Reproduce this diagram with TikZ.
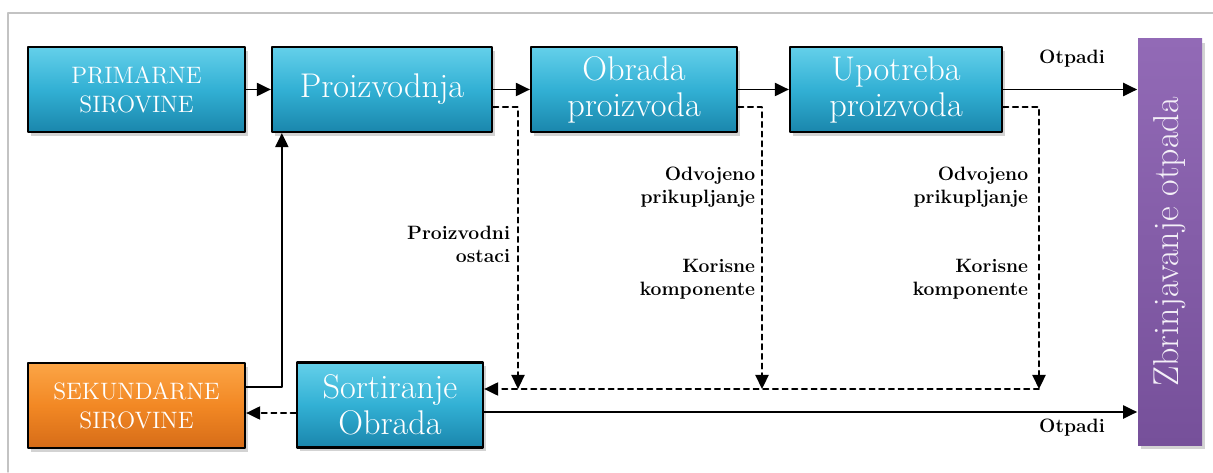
\documentclass[tikz,border=0pt]{standalone}
\usetikzlibrary{arrows.meta}
\usetikzlibrary{shadows}
\definecolor{cyanT}{RGB}{100,208,234}
\definecolor{cyanM}{RGB}{50,176,212}
\definecolor{cyanB}{RGB}{26,134,172}
\definecolor{orT}{RGB}{252,165,70}
\definecolor{orM}{RGB}{242,136,36}
\definecolor{orB}{RGB}{214,108,24}
\definecolor{purT}{RGB}{146,106,182}
\definecolor{purB}{RGB}{118,80,154}
\definecolor{frameGrey}{RGB}{195,195,195}
\begin{document}
\begin{tikzpicture}[line cap=round,line join=round,>={Triangle[length=8pt,width=7.5pt]},x=1cm,y=1cm, line width=1pt,
    proc/.style={draw=black, line width=1.3pt, top color=cyanT, bottom color=cyanB, middle color=cyanM, text=white, inner sep=0pt, minimum height=1.7cm, align=center, font=\fontsize{19.5}{20.5}\selectfont, drop shadow={shadow xshift=1.5pt, shadow yshift=-2pt, opacity=0.35}},
    src/.style={proc, font=\fontsize{13.5}{16.5}\selectfont},
    lbl/.style={font=\bfseries\fontsize{11}{13}\selectfont, align=right, anchor=east, inner sep=0pt},
    flow/.style={dash pattern=on 3pt off 2.5pt}]
    \useasboundingbox (0,0) rectangle (24.26,9.44);
    \draw[frameGrey, line width=0.8pt] (0.16,0) -- (0.16,9.18) -- (24.26,9.18);

    % top row
    \node[src, minimum width=4.34cm] (prim) at (2.73,7.65) {PRIMARNE\\SIROVINE};
    \node[proc, minimum width=4.4cm] (proiz) at (7.64,7.65) {Proizvodnja};
    \node[proc, minimum width=4.12cm] (obr) at (12.68,7.65) {Obrada\\proizvoda};
    \node[proc, minimum width=4.24cm] (upot) at (17.92,7.65) {Upotreba\\proizvoda};

    % bottom row
    \node[src, minimum width=4.34cm, top color=orT, bottom color=orB, middle color=orM] (sek) at (2.73,1.33) {SEKUNDARNE\\SIROVINE};
    \node[proc, minimum width=3.72cm] (sort) at (7.80,1.34) {Sortiranje\\Obrada};

    % waste
    \node[top color=purT, bottom color=purB, minimum width=1.28cm, minimum height=8.12cm, inner sep=0pt, drop shadow={shadow xshift=1.5pt, shadow yshift=-2pt, opacity=0.35}] (zbr) at (23.40,4.60) {};
    \node[rotate=90, text=white!90!purT, font=\fontsize{20.5}{22}\selectfont] (zbrtxt) at (zbr.center) {Zbrinjavanje otpada};

    \coordinate (c1) at (10.36,1.66);
    \coordinate (c2) at (15.24,1.66);
    \coordinate (c3) at (20.78,1.66);

    \draw[->] (prim.east) -- (proiz.west);
    \draw[->] (proiz.east) -- (obr.west);
    \draw[->] (obr.east) -- (upot.west);
    \draw[->] (upot.east) -- (upot.east -| zbr.west);
    \draw[->] ([yshift=0.37cm]sek.east) -| ([xshift=0.22cm]proiz.south west);

    \draw[flow,->] ([yshift=-0.35cm]proiz.east) -| (c1);
    \draw[flow,->] ([yshift=-0.35cm]obr.east) -| (c2);
    \draw[flow,->] ([yshift=-0.35cm]upot.east) -| (c3);
    \draw[flow,->] (c3) -- (c3 -| sort.east);
    \draw[flow,->] ([yshift=-0.16cm]sort.west) -- ([yshift=-0.16cm]sort.west -| sek.east);
    \draw[->] ([yshift=-0.14cm]sort.east) -- ([yshift=-0.14cm]sort.east -| zbr.west);

    \node[lbl] (ostaci) at (10.22,4.56) {Proizvodni\\ostaci};
    \node[lbl] (odv1) at (15.12,5.69) {Odvojeno\\prikupljanje};
    \node[lbl] (kor1) at (15.12,3.85) {Korisne\\komponente};
    \node[lbl] (odv2) at (20.58,5.69) {Odvojeno\\prikupljanje};
    \node[lbl] (kor2) at (20.58,3.85) {Korisne\\komponente};
    \node[lbl, anchor=center] (otp1) at (21.44,8.26) {Otpadi};
    \node[lbl, anchor=center] (otp2) at (21.44,0.88) {Otpadi};
\end{tikzpicture}
\end{document}
